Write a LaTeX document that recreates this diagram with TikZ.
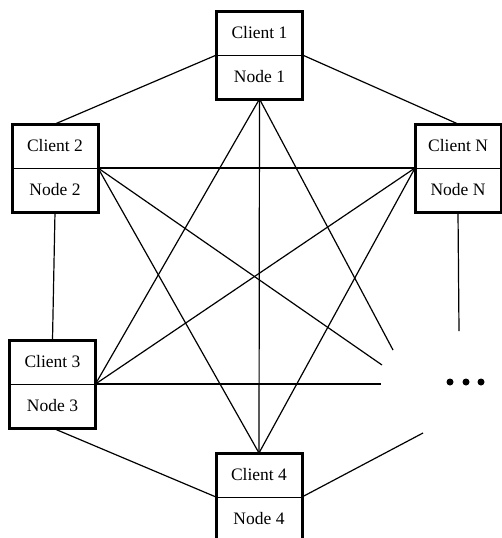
\documentclass[tikz,border=0pt]{standalone}
\usepackage{fontspec}
\setmainfont{Liberation Serif}
\usetikzlibrary{positioning}

\begin{document}
\begin{tikzpicture}[x=1pt,y=-1pt,
  half/.style={draw,line width=0.8pt,outer sep=0pt,minimum width=86pt,minimum height=44pt,inner sep=0pt,font=\fontsize{17.5}{21}\selectfont},
  frame/.style={line width=3pt},
  link/.style={line width=1.2pt}]
      \useasboundingbox (0,0) rectangle (502,538);

      % Clients and nodes
      \node [half] (c1) at (259.5,33) {Client 1};
      \node [half,below=0 of c1] (n1) {Node 1};
      \node [half] (c2) at (55,146) {Client 2};
      \node [half,below=0 of c2] (n2) {Node 2};
      \node [half] (cN) at (458,146) {Client N};
      \node [half,below=0 of cN] (nN) {Node N};
      \node [half] (c3) at (52.5,362) {Client 3};
      \node [half,below=0 of c3] (n3) {Node 3};
      \node [half] (c4) at (259,475) {Client 4};
      \node [half,below=0 of c4] (n4) {Node 4};
      \foreach \i in {1,2,3,4,N}
        \draw [frame] (c\i.north west) rectangle (n\i.south east);

      % Free ends
      \coordinate (e1) at (393,350);
      \coordinate (e2) at (382,365);
      \coordinate (e3) at (381,384);
      \coordinate (eN) at (459,331);
      \coordinate (e4) at (423,433);

      % Ring
      \draw [link] (c1.south west) -- (c2.north);
      \draw [link] (c1.south east) -- (cN.north);
      \draw [link] (n2.south) -- (c3.north);
      \draw [link] (n3.south) -- (c4.south west);
      \draw [link] (c4.south east) -- (e4);
      \draw [link] (nN.south) -- (eN);

      % Cross links
      \draw [link] (n1.south) -- (c3.south east);
      \draw [link] (n1.south) -- (c4.north);
      \draw [link] (n1.south) -- (e1);
      \draw [link] (c2.south east) -- (cN.south west);
      \draw [link] (c2.south east) -- (e2);
      \draw [link] (c2.south east) -- (c4.north);
      \draw [link] (c3.south east) -- (cN.south west);
      \draw [link] (c3.south east) -- (e3);
      \draw [link] (cN.south west) -- (c4.north);

      % More nodes
      \foreach \x in {450,466,481}
        \fill (\x,382) circle [radius=3.5];
\end{tikzpicture}
\end{document}
